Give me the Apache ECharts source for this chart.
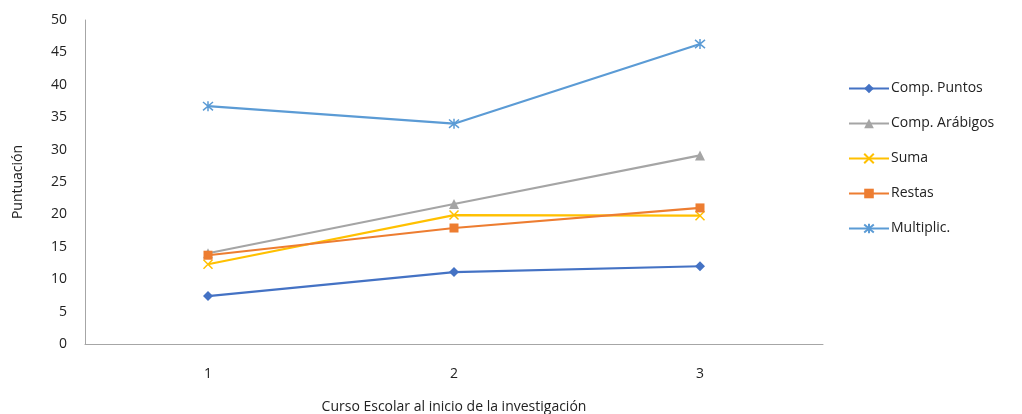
<!DOCTYPE html>
<html><head><meta charset="utf-8">
<script src="https://cdn.jsdelivr.net/npm/echarts@6/dist/echarts.min.js"></script>
<style>html,body{margin:0;padding:0;background:#fff}#c{width:1022px;height:414px}</style>
</head><body><div id="c"></div>
<script>
const categories = ['1', '2', '3'];
const compPuntos = [7.4, 11.1, 12.0];
const compArabigos = [14.0, 21.6, 29.1];
const suma = [12.3, 19.9, 19.8];
const restas = [13.7, 17.9, 21.0];
const multiplic = [36.7, 34.0, 46.3];
const seriesNames = ['Comp. Puntos', 'Comp. Arábigos', 'Suma', 'Restas', 'Multiplic.'];

const FONT = 'Open Sans';
const crossPath = 'path://M0,0L10,10M10,0L0,10';
const starPath = 'path://M0,0L10,10M10,0L0,10M5,-1L5,11';

function mk(name, data, color, symbol, size, stroked) {
  return {
    name, type: 'line', data, symbol, symbolSize: size,
    lineStyle: { color, width: 2.2 },
    itemStyle: stroked ? { color: 'rgba(0,0,0,0)', borderColor: color, borderWidth: 1.5 } : { color, borderWidth: 0 },
    emphasis: { disabled: true }
  };
}

const chart = echarts.init(document.getElementById('c'));
chart.setOption({
  animation: false,
  textStyle: { fontFamily: FONT },
  grid: { left: 85, right: 199, top: 20, bottom: 70, outerBoundsMode: 'none', containLabel: false },
  legend: {
    orient: 'vertical', left: 843, top: 74,
    itemWidth: 40, itemHeight: 12, itemGap: 16,
    textStyle: { fontFamily: FONT, fontSize: 14, color: '#222', padding: [0, 0, 0, -3], lineHeight: 19 },
    data: seriesNames
  },
  xAxis: {
    type: 'category', data: categories, boundaryGap: true,
    axisLine: { lineStyle: { color: '#a6a6a6', width: 1 } },
    axisTick: { show: false },
    axisLabel: { fontFamily: FONT, fontSize: 14, color: '#222', margin: 23 },
    name: 'Curso Escolar al inicio de la investigación', nameLocation: 'middle', nameGap: 56,
    nameTextStyle: { fontFamily: FONT, fontSize: 14, color: '#222' }
  },
  yAxis: {
    type: 'value', min: 0, max: 50, interval: 5,
    axisLine: { show: true, lineStyle: { color: '#a6a6a6', width: 1 } },
    axisTick: { show: false },
    splitLine: { show: false },
    axisLabel: { fontFamily: FONT, fontSize: 14, color: '#222', margin: 18 },
    name: 'Puntuación', nameLocation: 'middle', nameGap: 60, nameRotate: 90,
    nameTextStyle: { fontFamily: FONT, fontSize: 14, color: '#222' }
  },
  series: [
    mk(seriesNames[0], compPuntos, '#4472C4', 'diamond', 10, false),
    mk(seriesNames[1], compArabigos, '#A5A5A5', 'triangle', 10, false),
    mk(seriesNames[2], suma, '#FFC000', crossPath, 9, true),
    mk(seriesNames[3], restas, '#ED7D31', 'rect', 9, false),
    mk(seriesNames[4], multiplic, '#5B9BD5', starPath, 10, true)
  ]
});
</script></body></html>
